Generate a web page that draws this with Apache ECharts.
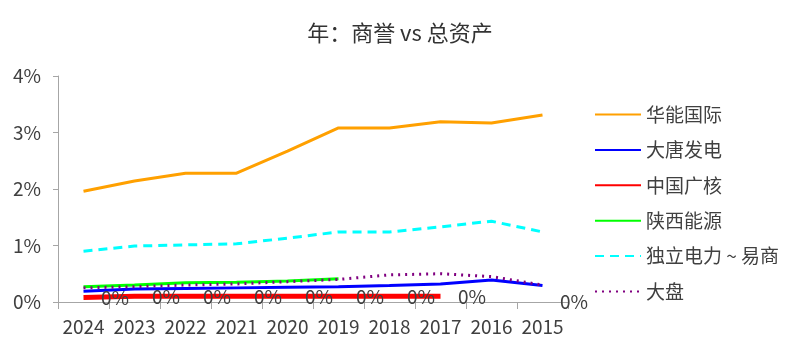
<!DOCTYPE html>
<html>
<head>
<meta charset="utf-8">
<script src="https://cdn.jsdelivr.net/npm/echarts@6/dist/echarts.min.js"></script>
<style>
  html, body { margin: 0; padding: 0; background: #fff; }
  #chart { width: 800px; height: 353px; }
</style>
</head>
<body>
<div id="chart"></div>
<script>
// 数据（单位：%）
const years = ['2024', '2023', '2022', '2021', '2020', '2019', '2018', '2017', '2016', '2015'];
const huaneng = [1.96, 2.14, 2.28, 2.28, 2.67, 3.08, 3.08, 3.19, 3.17, 3.31];
const datang = [0.19, 0.23, 0.24, 0.25, 0.26, 0.27, 0.29, 0.32, 0.39, 0.29];
const cgn = [0.08, 0.1, 0.1, 0.1, 0.1, 0.1, 0.1, 0.1, null, null];
const shaanxi = [0.27, 0.3, 0.34, 0.35, 0.37, 0.41, null, null, null, null];
const duli = [0.90, 0.99, 1.01, 1.03, 1.13, 1.24, 1.24, 1.33, 1.43, 1.24];
const dapan = [0.25, 0.27, 0.3, 0.32, 0.36, 0.4, 0.48, 0.5, 0.45, 0.3];
// 数据标签 "0%"
const labelVals = [0.08, 0.1, 0.1, 0.1, 0.1, 0.1, 0.1, 0.1, null, 0];
const yTicks = [0, 1, 2, 3, 4];

const chartDom = document.getElementById('chart');
const myChart = echarts.init(chartDom);

const font = '"Noto Sans CJK SC", "Open Sans", sans-serif';
const textColor = '#404040';

function line(name, data, color, width, type) {
    return {
        name: name,
        type: 'line',
        data: data,
        symbol: 'none',
        color: color,
        lineStyle: { color: color, width: width, type: type || 'solid' }
    };
}

const option = {
    animation: false,
    textStyle: { fontFamily: font },
    title: {
        text: '年：商誉 vs 总资产',
        left: 'center',
        top: 17,
        textStyle: { fontSize: 22, fontWeight: 'normal', color: '#333', fontFamily: font }
    },
    legend: {
        orient: 'vertical',
        left: 589,
        top: 100,
        itemWidth: 46,
        itemHeight: 14,
        itemGap: 16.4,
        itemStyle: { opacity: 0 },
        data: ['华能国际', '大唐发电', '中国广核', '陕西能源', '独立电力 ~ 易商', '大盘'],
        textStyle: { fontSize: 19, color: textColor, fontFamily: font }
    },
    grid: {
        left: 58,
        right: 232,
        top: 76,
        bottom: 51
    },
    xAxis: {
        type: 'category',
        data: years,
        boundaryGap: true,
        axisLine: { lineStyle: { color: '#a6a6a6' } },
        axisTick: { show: true, interval: 0, length: 7, lineStyle: { color: '#a6a6a6' } },
        axisLabel: { fontSize: 19, color: textColor, margin: 15, interval: 0 }
    },
    yAxis: {
        type: 'value',
        min: yTicks[0],
        max: yTicks[yTicks.length - 1],
        interval: 1,
        splitLine: { show: false },
        axisLine: { show: true, lineStyle: { color: '#a6a6a6' } },
        axisTick: { show: true, length: 5, lineStyle: { color: '#a6a6a6' } },
        axisLabel: { fontSize: 19, color: textColor, margin: 17, formatter: '{value}%' }
    },
    series: [
        line('华能国际', huaneng, '#FFA000', 3),
        line('大唐发电', datang, '#0000FF', 3),
        line('中国广核', cgn, '#FF0000', 5),
        line('陕西能源', shaanxi, '#00FF00', 3),
        line('独立电力 ~ 易商', duli, '#00FFFF', 3, [9, 6]),
        line('大盘', dapan, '#800080', 3, [2, 5]),
        {
            name: 'labels',
            type: 'line',
            data: labelVals,
            symbol: 'circle',
            symbolSize: 1,
            showSymbol: true,
            lineStyle: { width: 0, opacity: 0 },
            itemStyle: { color: 'rgba(0,0,0,0)', opacity: 1 },
            label: {
                show: true,
                position: 'right',
                distance: 0,
                offset: [17, 0],
                fontSize: 19,
                color: textColor,
                opacity: 1,
                textBorderWidth: 0,
                formatter: function (p) { return Math.round(p.value) + '%'; }
            },
            z: 10
        }
    ]
};

myChart.setOption(option);

window.addEventListener('resize', () => {
    myChart.resize();
});
</script>
</body>
</html>
